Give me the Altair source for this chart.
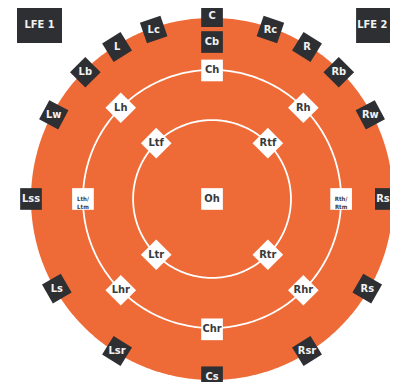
import numpy as np
import pandas as pd
import altair as alt

# ---- data -------------------------------------------------------------
# position angle (deg, clockwise from front/top) and normalised radius
labels = ["C", "Lc", "L", "Lb", "Lw", "Lss", "Ls", "Lsr", "Cs",
          "Rsr", "Rs", "Rss", "Rw", "Rb", "R", "Rc", "Cb",
          "Ch", "Lh", "Rh", "Lth/\nLtm", "Rth/\nRtm", "Lhr", "Rhr", "Chr",
          "Ltf", "Rtf", "Ltr", "Rtr", "Oh"]
angles = [0, -19, -32, -45, -62, -90, -120, -148, 180,
          148, 120, 90, 62, 45, 32, 19, 0,
          0, -45, 45, -90, 90, -135, 135, 180,
          -45, 45, -135, 135, 0]
radii = [1.01, 0.99, 0.99, 0.99, 0.99, 1.0, 0.99, 0.99, 0.985,
         0.99, 0.99, 0.96, 0.99, 0.99, 0.99, 0.99, 0.867,
         0.71, 0.713, 0.713, 0.713, 0.713, 0.713, 0.713, 0.72,
         0.436, 0.436, 0.436, 0.436, 0.0]
kinds = ["dark"] * 17 + ["white"] * 13
small = [l in ("Lth/\nLtm", "Rth/\nRtm") for l in labels]

ring_radii = [0.713, 0.436]

lfe_labels = ["LFE 1", "LFE 2"]
lfe_x = [-0.953, 0.92]
lfe_text_x = [-0.953, 0.885]
lfe_y = [0.959, 0.959]

ORANGE = "#EE6B38"
DARK = "#2D2F32"
FONT = "'Liberation Sans Narrow', 'DejaVu Sans Condensed', 'Roboto', sans-serif"

# ---- geometry tables ---------------------------------------------------
t = np.linspace(0, np.pi, 361)
disc = pd.DataFrame({"x": np.cos(t), "y": np.sin(t), "y2": -np.sin(t)})

ring_rows = []
tt = np.linspace(0, 2 * np.pi, 361)
for k, rr in enumerate(ring_radii):
    for i, a in enumerate(tt):
        ring_rows.append({"ring": k, "i": i, "x": rr * np.cos(a), "y": rr * np.sin(a)})
rings = pd.DataFrame(ring_rows)

spk = pd.DataFrame({"label": labels, "angle": angles, "r": radii,
                    "kind": kinds, "small": small})
lfe = pd.DataFrame({"label": lfe_labels, "x": lfe_x, "tx": lfe_text_x, "y": lfe_y})

xs = alt.Scale(domain=[-1.127, 0.983], nice=False, zero=False)
ys = alt.Scale(domain=[-1.011, 1.055], nice=False, zero=False)
X = lambda f="x": alt.X(f + ":Q", scale=xs, axis=None)
Y = lambda f="y": alt.Y(f + ":Q", scale=ys, axis=None)

disc_layer = alt.Chart(disc).mark_area(color=ORANGE, orient="vertical", clip=True).encode(
    x=X(), y=Y(), y2="y2:Q")

ring_layer = alt.Chart(rings).mark_line(color="white", strokeWidth=1.8).encode(
    x=X(), y=Y(), detail="ring:N", order="i:Q")

base = alt.Chart(spk).transform_calculate(
    x="datum.r * sin(datum.angle * PI / 180)",
    y="datum.r * cos(datum.angle * PI / 180)",
    rot="((datum.angle % 90) + 90) % 90",
)

box_layer = base.mark_square(size=470, opacity=1, clip=True).encode(
    x=X(), y=Y(),
    angle=alt.Angle("rot:Q", scale=None),
    color=alt.Color("kind:N", scale=alt.Scale(domain=["dark", "white"], range=[DARK, "white"]), legend=None),
)

text_layer = base.transform_filter("!datum.small").mark_text(
    font=FONT, fontWeight="bold", fontSize=11, clip=True).encode(
    x=X(), y=Y(), text="label:N",
    color=alt.Color("kind:N", scale=alt.Scale(domain=["dark", "white"], range=["#F2F2F2", "#3A3A3A"]), legend=None),
)

small_text = base.transform_filter("datum.small").mark_text(
    font=FONT, fontWeight="bold", fontSize=6, lineBreak="\n", color="#3A3A3A", lineHeight=8).encode(
    x=X(), y=Y(), text="label:N")

lfe_box = alt.Chart(lfe).mark_rect(width=45, height=35, color=DARK, clip=True).encode(x=X(), y=Y())
lfe_text = alt.Chart(lfe).mark_text(font=FONT, fontWeight="bold", fontSize=11, color="#F2F2F2", clip=True).encode(
    x=X("tx"), y=Y(), text="label:N")

chart = alt.layer(disc_layer, ring_layer, box_layer, text_layer, small_text, lfe_box, lfe_text).properties(
    width=382, height=374, padding=0,
    autosize=alt.AutoSizeParams(type="none"),
).configure_view(stroke=None).resolve_scale(color="independent")

chart.save("out.html", embed_options={"renderer": "svg", "actions": False})
